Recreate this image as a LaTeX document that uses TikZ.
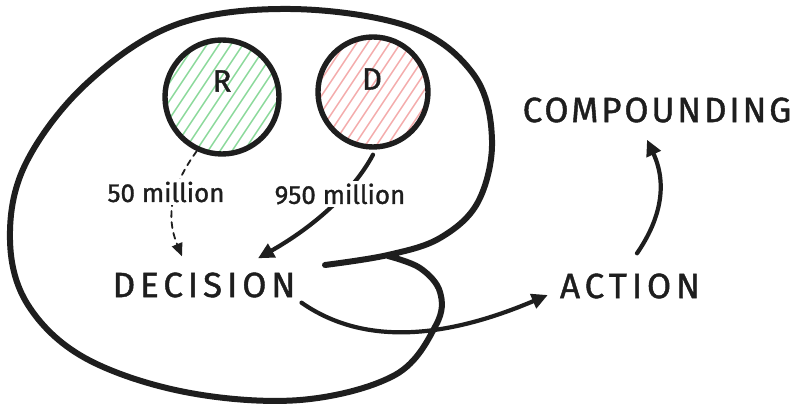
\documentclass[tikz,border=0pt]{standalone}
\usepackage{fontspec}
\setmainfont{Fira Sans}[FakeBold=0.8]
\newfontfamily\capsdec{Fira Sans}[LetterSpace=14,FakeBold=1.2]
\newfontfamily\capsact{Fira Sans}[LetterSpace=14,FakeBold=1.2]
\newfontfamily\capscomp{Fira Sans}[LetterSpace=8,FakeBold=1.2]
\newfontfamily\numfont{Fira Sans}[FakeBold=1.2]
\usetikzlibrary{arrows.meta}
\definecolor{ink}{HTML}{1E1E1E}
\definecolor{hgreen}{HTML}{8AD99A}
\definecolor{hpink}{HTML}{F4ABAB}
\tikzset{
  ink/.style={draw=ink, line cap=round, line join=round},
  bigloop/.style={ink, line width=6pt},
  ring/.style={circle, ink, line width=5.4pt, inner sep=0pt},
  capslabel/.style={text=ink, inner sep=2pt},
  letterlabel/.style={font=\numfont\fontsize{31}{31}\selectfont, text=ink, inner sep=0pt},
  numlabel/.style={font=\numfont\fontsize{26}{26}\selectfont, text=ink, fill=white, inner sep=3pt},
  solidarrow/.style={ink, line width=4.2pt, -{Triangle[length=16pt,width=15pt]}},
  dasharrow/.style={ink, line width=1.8pt, dashed, dash pattern=on 6pt off 5pt, -{Triangle[length=13pt,width=11pt]}},
}
\begin{document}
\begin{tikzpicture}[x=1pt,y=-1pt]
\useasboundingbox (0,0) rectangle (800,411);
\fill[white] (0,0) rectangle (800,411);

% hatching of the circles
\begin{scope}
  \clip (222,97) circle[radius=55pt];
  \foreach \i in {-170,-158,...,170}
    \draw[hgreen, line width=1.4pt] (222+\i-50,97+75) -- (222+\i+50,97-75);
\end{scope}
\begin{scope}
  \clip (373,92) circle[radius=53pt];
  \foreach \i in {-170,-159,...,170}
    \draw[hpink, line width=1.4pt] (373+\i-50,92+75) -- (373+\i+50,92-75);
\end{scope}

\node[ring, minimum size=114pt] (R) at (222,97) {};
\node[ring, minimum size=110pt] (D) at (373,92) {};
\node[letterlabel] (Rl) at (222,81) {R};
\node[letterlabel] (Dl) at (372,79) {D};

% big loop
\draw[bigloop] plot[smooth, tension=0.6] coordinates {
  (325,265) (388,255) (440,238) (478,202) (492,140) (474,75) (410,27)
  (290,9) (175,25) (85,85) (25,165) (10,240) (28,305) (85,358) (185,392)
  (300,400) (395,375) (436,325) (440,292) (420,268) (388,256)};

\node[capslabel, font=\capsdec\fontsize{35}{35}\selectfont] (DEC) at (204,285) {DECISION};
\node[capslabel, font=\capsact\fontsize{35}{35}\selectfont] (ACT) at (630,286) {ACTION};
\node[capslabel, font=\capscomp\fontsize{35}{35}\selectfont] (COMP) at (657,110) {COMPOUNDING};

% connectors
\draw[dasharrow] (R.245) .. controls (172,185) and (165,215) .. ([xshift=-22pt,yshift=14pt]DEC.north);
\draw[solidarrow] ([yshift=-5pt]D.south) .. controls (357,185) and (322,222) .. ([xshift=54pt,yshift=12pt]DEC.north);
\draw[solidarrow] ([xshift=4pt,yshift=-3pt]DEC.south east) .. controls (355,340) and (430,345) .. ([xshift=-10pt,yshift=-9pt]ACT.west);
\draw[solidarrow] ([xshift=7pt,yshift=18pt]ACT.north) .. controls (660,220) and (668,185) .. ([xshift=-10pt,yshift=-15pt]COMP.south);

\node[numlabel] (L50) at (166,192) {50 million};
\node[numlabel] (L950) at (340,194) {950 million};
\end{tikzpicture}
\end{document}
